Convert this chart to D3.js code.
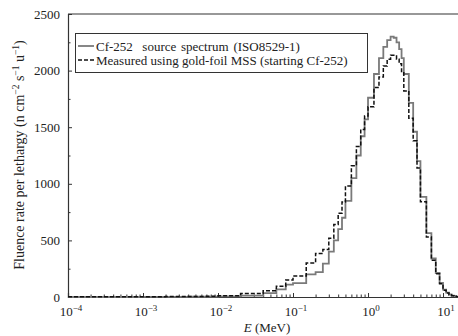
<!DOCTYPE html>
<html>
<head>
<meta charset="utf-8">
<script src="https://cdn.jsdelivr.net/npm/d3@7"></script>
<style>
  html, body { margin: 0; padding: 0; background: #fff; }
  svg { display: block; font-family: "Liberation Serif", "DejaVu Serif", serif; }
</style>
</head>
<body>
<svg id="chart" width="458" height="336"></svg>
<script>
// bin edges in MeV (group structure)
const energyEdges = [1e-4, 2e-4, 4e-4, 7e-4, 1e-3, 2e-3, 4e-3, 7e-3, 1e-2, 2e-2, 4e-2, 6e-2, 8e-2,
  0.1, 0.15, 0.2, 0.25, 0.3, 0.35, 0.4, 0.45, 0.5, 0.6, 0.7, 0.8, 0.9, 1.0,
  1.2, 1.4, 1.6, 1.8, 2.0, 2.2, 2.4, 2.6, 2.8, 3.0, 3.5, 4.0, 4.5, 5.0,
  6, 7, 8, 9, 10, 11, 12, 13, 14, 15, 17, 20];

// Cf-252 source spectrum (ISO8529-1), fluence rate per lethargy
const cfSource = [0, 0, 0, 0, 1, 1, 2, 3, 5, 12, 35, 68,
  110, 123, 200, 220, 295, 400, 500, 600, 700, 850, 1050, 1250, 1420, 1570,
  1760, 1970, 2110, 2210, 2270, 2300, 2290, 2250, 2190, 2110, 1970, 1715, 1460, 1200,
  885, 565, 340, 212, 124, 65, 38, 22, 12, 7, 3, 1];

// measured using gold-foil MSS (starting Cf-252)
const goldFoil = [2, 2, 2, 3, 3, 4, 5, 7, 10, 30, 55, 95,
  150, 185, 300, 385, 420, 520, 640, 740, 840, 980, 1160, 1330, 1480, 1600,
  1680, 1850, 1944, 2040, 2100, 2135, 2135, 2100, 2060, 1980, 1820, 1580, 1380, 1140,
  841, 530, 325, 205, 118, 60, 35, 20, 11, 6, 3, 1];

const yTicks = [0, 500, 1000, 1500, 2000, 2500];
const xDecades = [-4, -3, -2, -1, 0, 1];

const legendLabels = ["Cf-252  source spectrum (ISO8529-1)", "Measured using gold-foil MSS (starting Cf-252)"];

const margin = {top: 14, left: 68};
const plotBottom = 297;

const svg = d3.select("#chart");

const x = d3.scaleLog()
  .domain([1e-4, 20])
  .range([margin.left, 465.6]);
const y = d3.scaleLinear()
  .domain([0, 2500])
  .range([plotBottom, margin.top]);

const axisColor = "#333";

// frame: top line (right side is cut off in the original)
svg.append("line")
  .attr("x1", margin.left).attr("x2", 458)
  .attr("y1", y(2500)).attr("y2", y(2500))
  .attr("stroke", axisColor).attr("stroke-width", 1.2);

// x axis with inward ticks
const minorX = [];
xDecades.forEach(p => {
  for (let k = 2; k <= 9; k++) minorX.push(k * Math.pow(10, p));
});
const xAxis = d3.axisBottom(x)
  .tickValues(xDecades.map(p => Math.pow(10, p)))
  .tickSize(-4)
  .tickFormat("");
const gx = svg.append("g")
  .attr("transform", `translate(0,${plotBottom})`)
  .call(xAxis);
gx.selectAll(".tick line").attr("stroke", axisColor);
gx.select(".domain").attr("stroke", axisColor).attr("stroke-width", 1.2);

svg.append("g")
  .attr("transform", `translate(0,${plotBottom})`)
  .call(d3.axisBottom(x).tickValues(minorX.filter(v => v <= 20)).tickSize(-2.5).tickFormat(""))
  .call(g => g.select(".domain").remove())
  .selectAll(".tick line").attr("stroke", axisColor);

// x tick labels with superscripts
const xLab = svg.append("g");
xDecades.forEach(p => {
  const t = xLab.append("text")
    .attr("x", x(Math.pow(10, p)) + 3)
    .attr("y", 315.5)
    .attr("text-anchor", "middle")
    .attr("font-size", 13)
    .attr("fill", "#222");
  t.append("tspan").text("10");
  t.append("tspan").attr("dy", -5).attr("font-size", 9).text(p < 0 ? "\u2212" + Math.abs(p) : String(p));
});

// y axis with inward ticks
const yAxis = d3.axisLeft(y)
  .tickValues(yTicks)
  .tickSize(-4)
  .tickPadding(8)
  .tickFormat(d3.format("d"));
const gy = svg.append("g")
  .attr("transform", `translate(${margin.left},0)`)
  .call(yAxis);
gy.select(".domain").attr("stroke", axisColor).attr("stroke-width", 1.2);
gy.selectAll(".tick line").attr("stroke", axisColor);
gy.selectAll(".tick text")
  .attr("font-family", "Liberation Serif, serif")
  .attr("font-size", 13)
  .attr("fill", "#222");

svg.append("g")
  .attr("transform", `translate(${margin.left},0)`)
  .call(d3.axisLeft(y).tickValues(d3.range(250, 2500, 500)).tickSize(-2.5).tickFormat(""))
  .call(g => g.select(".domain").remove())
  .selectAll(".tick line").attr("stroke", axisColor);

// histograms
function stepPoints(values) {
  return energyEdges.map((e, i) => [e, values[Math.min(i, values.length - 1)]]);
}
const line = d3.line()
  .x(d => x(d[0]))
  .y(d => y(d[1]))
  .curve(d3.curveStepAfter);

svg.append("path")
  .datum(stepPoints(cfSource))
  .attr("d", line)
  .attr("fill", "none")
  .attr("stroke", "#7a7a7a")
  .attr("stroke-width", 1.8);

svg.append("path")
  .datum(stepPoints(goldFoil))
  .attr("d", line)
  .attr("fill", "none")
  .attr("stroke", "#111")
  .attr("stroke-width", 1.5)
  .attr("stroke-dasharray", "4,2");

// legend
const legend = svg.append("g");
legend.append("rect")
  .attr("x", 75.5).attr("y", 33.5)
  .attr("width", 292).attr("height", 39)
  .attr("fill", "#fff")
  .attr("stroke", "#333")
  .attr("stroke-width", 1);
const legendStyles = [
  {stroke: "#7a7a7a", width: 1.8, dash: null},
  {stroke: "#111", width: 1.5, dash: "4,2"}
];
legendLabels.forEach((lab, i) => {
  const ly = 46 + i * 14;
  legend.append("line")
    .attr("x1", 78).attr("x2", 94)
    .attr("y1", ly).attr("y2", ly)
    .attr("stroke", legendStyles[i].stroke)
    .attr("stroke-width", legendStyles[i].width)
    .attr("stroke-dasharray", legendStyles[i].dash);
  legend.append("text")
    .attr("x", 96).attr("y", ly + 4.5)
    .attr("font-size", 13)
    .attr("fill", "#222")
    .attr("xml:space", "preserve")
    .attr("word-spacing", i === 0 ? 1.5 : 0)
    .text(lab);
});

// axis titles
const xt = svg.append("text")
  .attr("x", 267).attr("y", 332)
  .attr("text-anchor", "middle")
  .attr("font-size", 13)
  .attr("fill", "#222");
xt.append("tspan").attr("font-style", "italic").text("E");
xt.append("tspan").text(" (MeV)");

const yt = svg.append("text")
  .attr("transform", "translate(24,155) rotate(-90)")
  .attr("text-anchor", "middle")
  .attr("font-size", 14)
  .attr("fill", "#222");
yt.append("tspan").text("Fluence rate per lethargy (n cm");
yt.append("tspan").attr("dy", -5).attr("font-size", 9.5).text("\u22122");
yt.append("tspan").attr("dy", 5).text(" s");
yt.append("tspan").attr("dy", -5).attr("font-size", 9.5).text("\u22121");
yt.append("tspan").attr("dy", 5).text(" u");
yt.append("tspan").attr("dy", -5).attr("font-size", 9.5).text("\u22121");
yt.append("tspan").attr("dy", 5).text(")");
</script>
</body>
</html>
